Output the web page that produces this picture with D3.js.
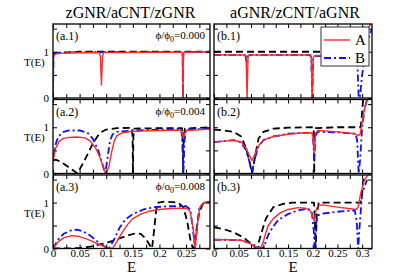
<!DOCTYPE html>
<html><head><meta charset="utf-8">
<script src="https://cdn.jsdelivr.net/npm/d3@7"></script>
<style>body{margin:0;background:#fff}svg{display:block}svg text{font-family:"Liberation Serif","DejaVu Serif",serif !important}</style>
</head><body><div id="c"></div>
<script>
// ---- data ----
const titles = ["zGNR/aCNT/zGNR", "aGNR/zCNT/aGNR"];
const panelLabels = [["(a.1)","(a.2)","(a.3)"],["(b.1)","(b.2)","(b.3)"]];
const fluxLabels = [["ϕ/ϕ","0","=0.000"],["ϕ/ϕ","0","=0.004"],["ϕ/o","0","=0.008"]];
const seriesNames = ["A","B"];
const xTicksLeft = [0,0.05,0.1,0.15,0.2,0.25];
const xTicksRight = [0,0.05,0.1,0.15,0.2,0.25,0.3];
const yTickLabels = [0,1];

const a1_A=[[0,0],[0.001,0.9],[0.004,0.95],[0.01,0.96],[0.02,0.97],[0.04,0.98],[0.087,0.98],[0.089,0.9],[0.091,0.28],[0.093,0.9],[0.095,0.98],[0.2,0.99],[0.2425,0.99],[0.2435,0.9],[0.2442,0],[0.2449,0.9],[0.246,0.99],[0.295,1.0]];
const a1_B=[[0,0],[0.001,0.95],[0.005,0.98],[0.05,0.99],[0.2425,0.99],[0.2435,0.9],[0.2442,0],[0.2449,0.9],[0.246,0.99],[0.295,1.0]];
const a1_C=[[0,0.95],[0.005,0.97],[0.02,0.98],[0.05,1.0],[0.295,1.0]];

const a2_A=[[0,0.3],[0.005,0.55],[0.012,0.7],[0.02,0.76],[0.03,0.78],[0.045,0.79],[0.06,0.77],[0.07,0.7],[0.08,0.55],[0.088,0.35],[0.095,0.12],[0.1,0.0],[0.105,0.15],[0.11,0.45],[0.115,0.7],[0.12,0.82],[0.13,0.88],[0.15,0.91],[0.2,0.93],[0.241,0.94],[0.243,0.85],[0.245,0.78],[0.247,0.85],[0.25,0.93],[0.295,0.96]];
const a2_B=[[0,0.3],[0.004,0.6],[0.01,0.8],[0.02,0.9],[0.03,0.93],[0.05,0.93],[0.065,0.88],[0.075,0.75],[0.085,0.5],[0.093,0.2],[0.098,0.0],[0.102,0.3],[0.107,0.7],[0.112,0.85],[0.12,0.9],[0.15,0.93],[0.2,0.95],[0.241,0.96],[0.243,0.7],[0.245,0],[0.247,0.7],[0.25,0.95],[0.295,0.97]];
const a2_C=[[0,0.28],[0.005,0.3],[0.015,0.25],[0.03,0.13],[0.046,0.0],[0.06,0.3],[0.075,0.65],[0.088,0.88],[0.1,0.95],[0.12,0.98],[0.148,0.99],[0.1495,0.8],[0.1502,0],[0.151,0.8],[0.153,0.97],[0.2,0.98],[0.2425,0.98],[0.2435,0.8],[0.2445,0],[0.2455,0.8],[0.248,0.97],[0.295,1.0]];

const a3_A=[[0,0],[0.01,0.15],[0.02,0.23],[0.035,0.28],[0.05,0.26],[0.065,0.2],[0.08,0.12],[0.095,0.05],[0.105,0.01],[0.112,0],[0.12,0.15],[0.13,0.35],[0.14,0.52],[0.15,0.65],[0.165,0.75],[0.18,0.81],[0.2,0.85],[0.22,0.87],[0.25,0.88],[0.258,0.8],[0.263,0.45],[0.267,0],[0.271,0.5],[0.276,0.9],[0.285,1.0],[0.295,1.02]];
const a3_B=[[0,0],[0.01,0.2],[0.02,0.32],[0.035,0.4],[0.045,0.41],[0.055,0.38],[0.07,0.28],[0.085,0.14],[0.097,0.04],[0.105,0],[0.115,0.2],[0.125,0.45],[0.135,0.62],[0.15,0.75],[0.17,0.85],[0.19,0.9],[0.22,0.92],[0.25,0.92],[0.258,0.85],[0.263,0.4],[0.267,0],[0.271,0.5],[0.275,0.9],[0.285,1.0],[0.295,1.02]];
const a3_C=[[0,0],[0.03,0],[0.05,0.01],[0.07,0.04],[0.1,0.12],[0.12,0.2],[0.14,0.28],[0.155,0.33],[0.165,0.32],[0.175,0.2],[0.183,0.05],[0.186,0],[0.19,0.4],[0.194,0.85],[0.198,1.0],[0.21,1.02],[0.235,1.0],[0.245,0.9],[0.252,0.6],[0.258,0.2],[0.263,0],[0.268,0.3],[0.275,0.8],[0.283,1.0],[0.295,1.02]];

const b1_A=[[0,0.93],[0.063,0.93],[0.065,0.9],[0.067,0],[0.069,0.9],[0.072,0.93],[0.195,0.93],[0.197,0.88],[0.199,0],[0.201,0.88],[0.205,0.92],[0.29,0.92],[0.3,0.95],[0.305,1.2],[0.312,1.5],[0.32,1.65]];
const b1_B=[[0,0.93],[0.062,0.93],[0.064,0.9],[0.066,0.75],[0.068,0.9],[0.072,0.93],[0.195,0.93],[0.197,0.85],[0.199,0],[0.201,0.85],[0.205,0.91],[0.289,0.9],[0.291,0.6],[0.293,0],[0.296,0.05],[0.3,0.5],[0.31,1.2],[0.32,1.5]];
const b1_C=[[0,1.0],[0.295,1.0],[0.3,1.05],[0.303,1.6]];

const b2_A=[[0,0.68],[0.02,0.7],[0.04,0.72],[0.055,0.68],[0.065,0.55],[0.072,0.38],[0.077,0.28],[0.082,0.4],[0.09,0.6],[0.1,0.72],[0.12,0.8],[0.15,0.85],[0.18,0.88],[0.199,0.88],[0.201,0.75],[0.203,0.45],[0.205,0.85],[0.21,0.93],[0.25,0.9],[0.285,0.86],[0.292,0.82],[0.296,0.85],[0.3,1.1],[0.305,1.4],[0.31,1.6],[0.32,1.7]];
const b2_B=[[0,0.68],[0.02,0.7],[0.04,0.72],[0.055,0.67],[0.065,0.5],[0.072,0.25],[0.077,0.02],[0.082,0.3],[0.09,0.58],[0.1,0.72],[0.12,0.8],[0.15,0.86],[0.18,0.88],[0.199,0.88],[0.201,0.7],[0.203,0.3],[0.205,0.8],[0.21,0.9],[0.25,0.89],[0.287,0.86],[0.29,0.7],[0.293,0.0],[0.296,0.3],[0.3,1.0],[0.305,1.4],[0.31,1.6]];
const b2_C=[[0,0.95],[0.02,0.93],[0.04,0.9],[0.055,0.8],[0.065,0.55],[0.072,0.25],[0.077,0.0],[0.083,0.35],[0.09,0.75],[0.1,0.9],[0.12,0.97],[0.15,0.99],[0.2015,1.0],[0.2025,0.8],[0.203,0],[0.2035,0.8],[0.206,0.98],[0.25,1.0],[0.297,1.0],[0.299,1.2],[0.302,1.6],[0.305,1.7]];

const b3_A=[[0,0.19],[0.03,0.19],[0.055,0.18],[0.07,0.12],[0.08,0.06],[0.09,0.01],[0.095,0.02],[0.1,0.15],[0.105,0.35],[0.11,0.5],[0.12,0.65],[0.135,0.78],[0.15,0.85],[0.17,0.89],[0.185,0.88],[0.195,0.82],[0.2,0.7],[0.203,0.6],[0.206,0.8],[0.21,0.93],[0.22,0.95],[0.25,0.9],[0.28,0.86],[0.288,0.85],[0.292,0.9],[0.297,1.2],[0.305,1.5],[0.315,1.65]];
const b3_B=[[0,0.19],[0.03,0.19],[0.055,0.18],[0.07,0.13],[0.085,0.06],[0.095,0.01],[0.1,0.02],[0.105,0.15],[0.11,0.3],[0.12,0.48],[0.13,0.62],[0.15,0.75],[0.17,0.83],[0.19,0.87],[0.198,0.8],[0.202,0.4],[0.204,0.0],[0.206,0.5],[0.21,0.72],[0.22,0.76],[0.25,0.8],[0.285,0.83],[0.289,0.6],[0.292,0],[0.295,0.5],[0.3,1.2],[0.31,1.5]];
const b3_C=[[0,0.46],[0.02,0.42],[0.04,0.35],[0.06,0.24],[0.075,0.1],[0.087,0],[0.095,0.3],[0.105,0.65],[0.12,0.9],[0.14,0.97],[0.158,1.0],[0.2025,1.0],[0.204,0.7],[0.206,0],[0.208,0.7],[0.212,1.0],[0.297,1.0],[0.3,1.2],[0.303,1.6],[0.31,1.7]];

const panelData = [
  [[a1_A,a1_B,a1_C],[a2_A,a2_B,a2_C],[a3_A,a3_B,a3_C]],
  [[b1_A,b1_B,b1_C],[b2_A,b2_B,b2_C],[b3_A,b3_B,b3_C]]
];

// ---- layout ----
const W=395,H=279;
const FONT="Liberation Serif";
const cols=[{x0:53,x1:210,max:0.295,labels:xTicksLeft},{x0:214,x1:372,max:0.32,labels:xTicksRight}];
const rows=[{y0:24,y1:98},{y0:99.5,y1:173.5},{y0:175,y1:248.5}];
const styles=[
  {stroke:"#ff2a2a",width:1.4,dash:null},
  {stroke:"#1010ff",width:1.8,dash:"7,3,2,3"},
  {stroke:"#000",width:1.8,dash:"7,4"}
];

const svg=d3.select("#c").append("svg").attr("width",W).attr("height",H).attr("font-family",FONT);
const defs=svg.append("defs");

cols.forEach((c,ci)=>{
  const x=d3.scaleLinear().domain([0,c.max]).range([c.x0,c.x1]);
  rows.forEach((r,ri)=>{
    const y=d3.scaleLinear().domain([0,1.6]).range([r.y1,r.y0]);
    const id=`clip${ci}${ri}`;
    defs.append("clipPath").attr("id",id).append("rect")
      .attr("x",c.x0).attr("y",r.y0).attr("width",c.x1-c.x0).attr("height",r.y1-r.y0);
    const g=svg.append("g");
    const line=d3.line().x(d=>x(d[0])).y(d=>y(d[1]));
    [2,1,0].forEach(si=>{
      const s=styles[si];
      g.append("path").attr("clip-path",`url(#${id})`)
        .datum(panelData[ci][ri][si])
        .attr("d",line).attr("fill","none")
        .attr("stroke",s.stroke).attr("stroke-width",s.width)
        .attr("stroke-dasharray",s.dash).attr("stroke-linejoin","round");
    });
    const xt=d3.range(0,c.max+1e-9,0.025);
    const ax=(gen,tr)=>{const a=g.append("g").attr("transform",tr).call(gen);
      a.select(".domain").remove(); a.selectAll("line").attr("stroke","#000").attr("stroke-width",1); return a;};
    ax(d3.axisBottom(x).tickValues(xt).tickSizeInner(-4).tickSizeOuter(0).tickFormat(""),`translate(0,${r.y1})`);
    ax(d3.axisTop(x).tickValues(xt).tickSizeInner(-4).tickSizeOuter(0).tickFormat(""),`translate(0,${r.y0})`);
    ax(d3.axisLeft(y).tickValues([0,0.5,1,1.5]).tickSizeInner(-4).tickSizeOuter(0).tickFormat(""),`translate(${c.x0},0)`);
    ax(d3.axisRight(y).tickValues([0,0.5,1,1.5]).tickSizeInner(-4).tickSizeOuter(0).tickFormat(""),`translate(${c.x1},0)`);
    g.append("rect").attr("x",c.x0).attr("y",r.y0).attr("width",c.x1-c.x0).attr("height",r.y1-r.y0)
      .attr("fill","none").attr("stroke","#000").attr("stroke-width",1.3);
    if(ci===0){
      const la=g.append("g").attr("transform",`translate(${c.x0},0)`)
        .call(d3.axisLeft(y).tickValues(yTickLabels).tickSize(0).tickPadding(4).tickFormat(d3.format("d")));
      la.select(".domain").remove();
      la.attr("font-family",FONT);
      la.selectAll("text").attr("font-size",11).attr("font-family",FONT).attr("fill","#000");
      g.append("text").attr("x",24).attr("y",y(1)+14).attr("font-size",11).attr("font-family",FONT).text("T(E)");
    }
    if(ri===2){
      const lb=g.append("g").attr("transform",`translate(0,${r.y1})`)
        .call(d3.axisBottom(x).tickValues(c.labels).tickSize(0).tickPadding(1).tickFormat(d3.format("~g")));
      lb.select(".domain").remove();
      lb.attr("font-family",FONT);
      lb.selectAll("text").attr("font-size",11).attr("font-family",FONT).attr("fill","#000");
      g.append("text").attr("x",(c.x0+c.x1)/2).attr("y",272).attr("text-anchor","middle")
        .attr("font-size",15).attr("font-family",FONT).text("E");
    }
    g.append("text").attr("x",c.x0+3).attr("y",r.y0+16).attr("font-size",12).attr("font-family",FONT).text(panelLabels[ci][ri]);
    if(ci===0){
      const t=g.append("text").attr("x",c.x1-5).attr("y",r.y0+15).attr("text-anchor","end")
        .attr("font-size",11).attr("font-family",FONT);
      t.append("tspan").text(fluxLabels[ri][0]);
      t.append("tspan").attr("font-size",8).attr("dy",3).text(fluxLabels[ri][1]);
      t.append("tspan").attr("dy",-3).text(fluxLabels[ri][2]);
    }
  });
  svg.append("text").attr("x",(c.x0+c.x1)/2+(ci===0?-1:2)).attr("y",18).attr("text-anchor","middle")
    .attr("font-size",16).attr("font-family",FONT).text(titles[ci]);
});

// legend
const lg=svg.append("g");
lg.append("rect").attr("x",321).attr("y",27).attr("width",48).attr("height",39)
  .attr("fill","#fff").attr("stroke","#333").attr("stroke-width",1);
seriesNames.forEach((n,i)=>{
  const yy=40+i*18, s=styles[i];
  lg.append("line").attr("x1",324).attr("x2",350).attr("y1",yy).attr("y2",yy)
    .attr("stroke",s.stroke).attr("stroke-width",s.width).attr("stroke-dasharray",s.dash);
  lg.append("text").attr("x",355).attr("y",yy+5).attr("font-size",15).attr("font-family",FONT).text(n);
});
</script></body></html>
